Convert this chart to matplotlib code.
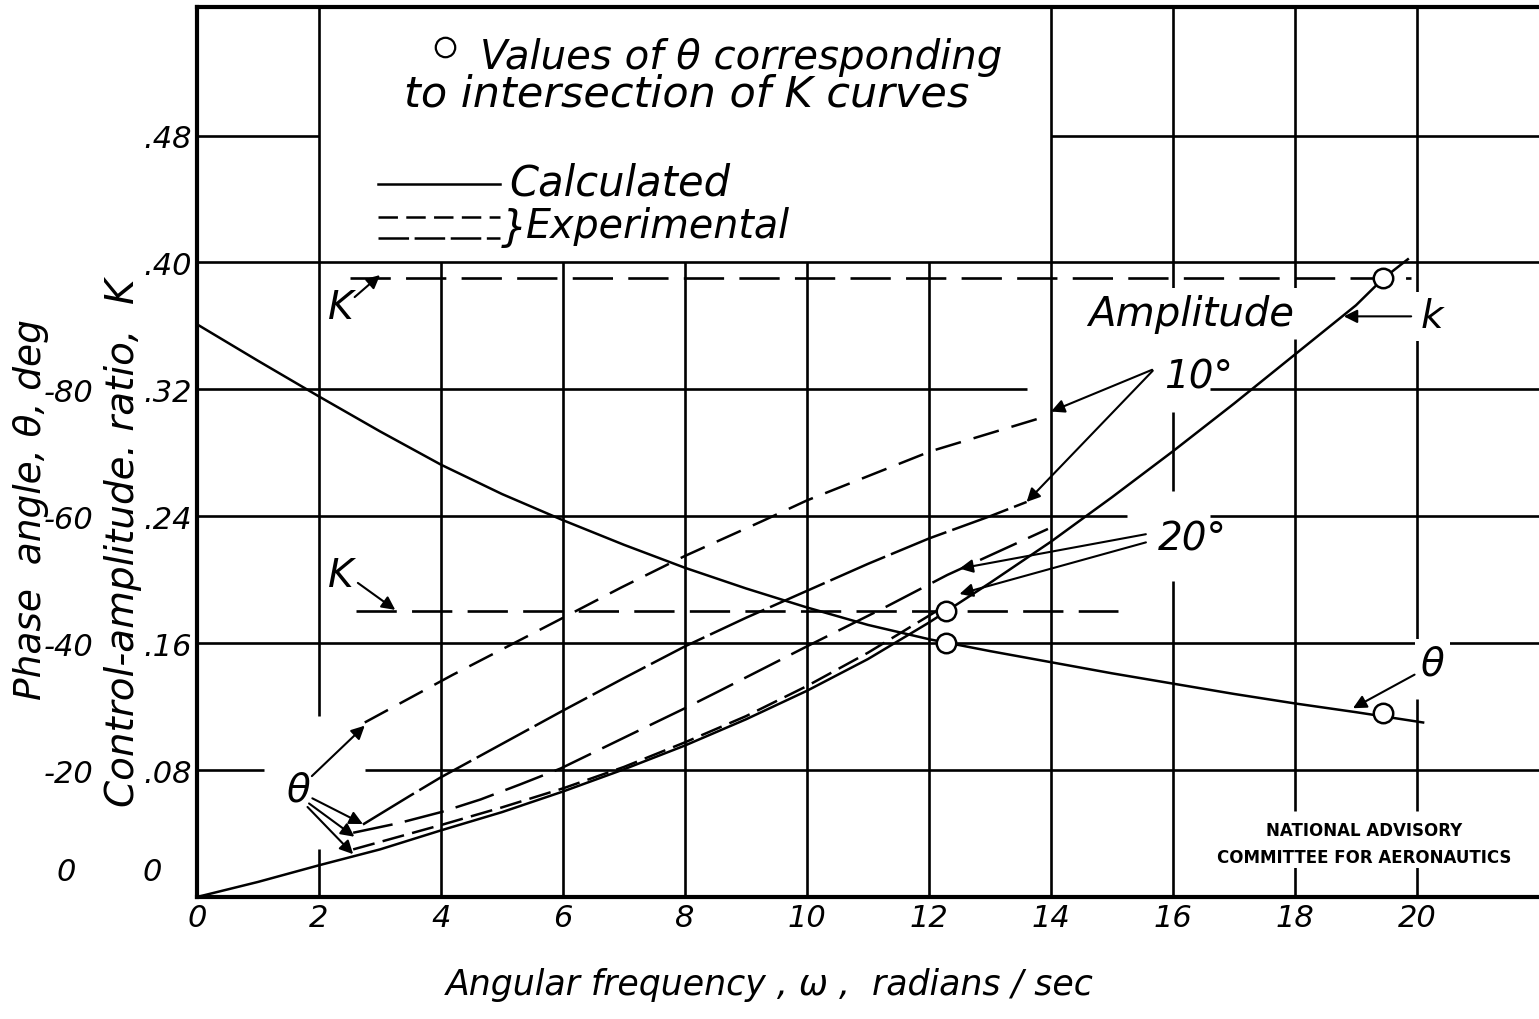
import matplotlib
matplotlib.use('Agg')
import matplotlib.pyplot as plt

plt.rcParams['font.family'] = ['DejaVu Sans']
plt.rcParams['font.style'] = 'italic'
plt.rcParams['lines.scale_dashes'] = False

# calculated phase-angle curve (plotted on the K scale, theta = -250 K)
w_theta_calc = [0, 1, 2, 3, 4, 5, 6, 7, 8, 9, 10, 11, 12, 13, 14, 15, 16, 17, 18, 19, 20.1]
k_theta_calc = [0.361, 0.338, 0.3155, 0.2935, 0.2725, 0.254, 0.2375, 0.222, 0.2075, 0.1945, 0.1825,
                0.1715, 0.1625, 0.155, 0.148, 0.141, 0.1345, 0.128, 0.122, 0.1165, 0.110]

# calculated control-amplitude ratio
w_k_calc = [0, 1, 2, 3, 4, 5, 6, 7, 8, 9, 10, 11, 12, 12.28, 13, 14, 15, 16, 17, 18, 19, 19.45, 19.85]
k_k_calc = [0, 0.0095, 0.020, 0.030, 0.042, 0.0535, 0.0665, 0.0805, 0.0955, 0.112, 0.130, 0.150,
            0.173, 0.180, 0.198, 0.224, 0.252, 0.281, 0.311, 0.342, 0.373, 0.390, 0.402]

# experimental K levels (horizontal dashed lines)
k_exp_level = [0.39, 0.18]
w_exp_start = [2.5, 2.6]
w_exp_end = [19.9, 15.1]

# experimental curves
w_a = [2.75, 4.19, 5.85, 6.95, 8.0, 9.27, 10.0, 12.03, 13.92]
k_a = [0.110, 0.140, 0.173, 0.195, 0.215, 0.237, 0.250, 0.281, 0.303]
w_b = [2.72, 3.5, 4.0, 5.0, 6.0, 7.0, 8.0, 9.0, 10.0, 11.0, 12.0, 13.0, 13.6]
k_b = [0.0457, 0.064, 0.0755, 0.0965, 0.1175, 0.138, 0.158, 0.176, 0.193, 0.210, 0.226, 0.240, 0.249]
w_c = [2.56, 3.3, 4.0, 4.65, 5.3, 5.96, 7.3, 8.0, 8.57, 10.0, 11.3, 12.3, 13.95]
k_c = [0.0405, 0.0465, 0.0535, 0.0615, 0.071, 0.081, 0.106, 0.119, 0.130, 0.158, 0.183, 0.203, 0.232]
w_d = [2.56, 4.03, 5.0, 6.01, 7.0, 8.0, 9.0, 10.0, 11.0, 11.6, 12.2]
k_d = [0.030, 0.0457, 0.0565, 0.0686, 0.082, 0.0975, 0.114, 0.133, 0.154, 0.168, 0.182]

# intersections
w_circ = [12.28, 12.28, 19.45, 19.45]
k_circ = [0.180, 0.160, 0.390, 0.116]

x_ticks = [0, 2, 4, 6, 8, 10, 12, 14, 16, 18, 20]
k_ticks = [0.08, 0.16, 0.24, 0.32, 0.40, 0.48]
k_ticklabels = ['.08', '.16', '.24', '.32', '.40', '.48']
theta_ticks = [-20, -40, -60, -80]
theta_ticklabels = ['-20', '-40', '-60', '-80']

fig = plt.figure(figsize=(15.39, 10.2), dpi=100)
ax = fig.add_axes([197 / 1539, 1 - 898 / 1020, 1 - 197 / 1539, 890 / 1020])
ax.set_xlim(0, 22)
ax.set_ylim(0, 0.561)

for s in ['left', 'bottom', 'top']:
    ax.spines[s].set_linewidth(3)
ax.spines['right'].set_visible(False)

# hand drawn grid with gaps
hgrid = {0.08: [(0, 1.1), (2.75, 22)], 0.16: [(0, 22)], 0.24: [(0, 15.25), (16.6, 22)],
         0.32: [(0, 13.6), (16.6, 22)], 0.40: [(0, 22)], 0.48: [(0, 2), (14, 22)]}
vgrid = {2: [(0, 0.030), (0.114, 0.561)], 4: [(0, 0.40)], 6: [(0, 0.40)], 8: [(0, 0.40)],
         10: [(0, 0.40)], 12: [(0, 0.40)], 14: [(0, 0.561)],
         16: [(0, 0.199), (0.256, 0.306), (0.381, 0.561)],
         18: [(0, 0.02), (0.054, 0.352), (0.381, 0.561)],
         20: [(0, 0.02), (0.054, 0.125), (0.161, 0.358), (0.378, 0.561)]}
for y, segs in hgrid.items():
    for a, b in segs:
        ax.hlines(y, a, b, color='black', lw=1.9, zorder=1)
for x, segs in vgrid.items():
    for a, b in segs:
        ax.vlines(x, a, b, color='black', lw=1.9, zorder=1)

# curves
ax.plot(w_theta_calc, k_theta_calc, color='black', lw=1.8, zorder=5)
ax.plot(w_k_calc, k_k_calc, color='black', lw=1.8, zorder=5)
for k, a, b in zip(k_exp_level, w_exp_start, w_exp_end):
    ax.plot([a, b], [k, k], color='black', lw=1.9, dashes=(29, 11), zorder=5)
ax.plot(w_a, k_a, color='black', lw=1.8, dashes=(19, 9.5), zorder=5)
ax.plot(w_b, k_b, color='black', lw=1.8, dashes=(43, 4.5), zorder=5)
ax.plot(w_c, k_c, color='black', lw=1.8, dashes=(29, 9), zorder=5)
ax.plot(w_d, k_d, color='black', lw=1.8, dashes=(16, 6), zorder=5)
ax.plot(w_circ, k_circ, 'o', ms=14, mfc='white', mec='black', mew=1.8, zorder=6)

# ticks
ax.set_xticks(x_ticks, labels=[str(v) for v in x_ticks])
ax.set_yticks(k_ticks, labels=k_ticklabels)
ax.tick_params(length=0, labelsize=22)
ax.tick_params(axis='x', pad=4)
ax.tick_params(axis='y', pad=4)
ax.text(-0.026, 0.016, '0', transform=ax.get_yaxis_transform(), ha='right', va='center', fontsize=22)
ax.text(-0.090, 0.016, '0', transform=ax.get_yaxis_transform(), ha='right', va='center', fontsize=22)

ax2 = ax.twinx()
ax2.set_ylim(0, -250 * 0.561)
ax2.yaxis.set_ticks_position('left')
ax2.spines['left'].set_position(('axes', -0.077))
for s in ax2.spines.values():
    s.set_visible(False)
ax2.set_yticks(theta_ticks, labels=theta_ticklabels)
ax2.tick_params(length=0, labelsize=22, pad=0)

# axis labels
ax.text(-0.124, 0.436, 'Phase  angle, θ, deg', transform=ax.transAxes, rotation=90,
        ha='center', va='center', fontsize=27)
ax.text(-0.055, 0.399, 'Control-amplitude. ratio,  K', transform=ax.transAxes, rotation=90,
        ha='center', va='center', fontsize=28)
ax.text(0.427, -0.098, 'Angular frequency , ω ,  radians / sec', transform=ax.transAxes,
        ha='center', va='center', fontsize=25)

# title note
ax.plot([0.185], [0.955], 'o', ms=14, mfc='white', mec='black', mew=1.6, transform=ax.transAxes)
ax.text(0.211, 0.944, 'Values of θ corresponding', transform=ax.transAxes,
        ha='left', va='center', fontsize=29)
ax.text(0.365, 0.903, 'to intersection of K curves', transform=ax.transAxes,
        ha='center', va='center', fontsize=31)

# legend
ax.plot([0.135, 0.226], [0.801, 0.801], color='black', lw=1.8, transform=ax.transAxes)
ax.plot([0.135, 0.226], [0.764, 0.764], color='black', lw=1.8, dashes=(14, 6), transform=ax.transAxes)
ax.plot([0.135, 0.226], [0.740, 0.740], color='black', lw=1.8, dashes=(22, 4), transform=ax.transAxes)
ax.text(0.233, 0.803, 'Calculated', transform=ax.transAxes, ha='left', va='center', fontsize=30)
ax.text(0.226, 0.752, '}', transform=ax.transAxes, ha='left', va='center', fontsize=30)
ax.text(0.245, 0.754, 'Experimental', transform=ax.transAxes, ha='left', va='center', fontsize=28.5)

white = dict(boxstyle='square,pad=0.15', fc='white', ec='none')
arrow = dict(arrowstyle='-|>', color='black', lw=1.5, mutation_scale=20, shrinkA=2, shrinkB=0)

ax.text(16.3, 0.368, 'Amplitude', ha='center', va='center', fontsize=29, bbox=white, zorder=3)
ax.text(15.85, 0.328, '10°', ha='left', va='center', fontsize=28, zorder=3)
ax.text(15.75, 0.226, '20°', ha='left', va='center', fontsize=28, zorder=3)
ax.annotate('', xy=(14.0, 0.306), xytext=(15.7, 0.333), arrowprops=arrow, zorder=4)
ax.annotate('', xy=(13.6, 0.249), xytext=(15.7, 0.333), arrowprops=arrow, zorder=4)
ax.annotate('', xy=(12.5, 0.207), xytext=(15.6, 0.229), arrowprops=arrow, zorder=4)
ax.annotate('', xy=(12.5, 0.191), xytext=(15.6, 0.224), arrowprops=arrow, zorder=4)

ax.text(2.35, 0.372, 'K', ha='center', va='center', fontsize=28, zorder=3)
ax.annotate('', xy=(3.0, 0.392), xytext=(2.55, 0.377), arrowprops=arrow, zorder=4)
ax.text(2.35, 0.203, 'K', ha='center', va='center', fontsize=28, zorder=3)
ax.annotate('', xy=(3.25, 0.181), xytext=(2.6, 0.199), arrowprops=arrow, zorder=4)

ax.text(20.25, 0.366, 'k', ha='center', va='center', fontsize=28, bbox=white, zorder=3)
ax.annotate('', xy=(18.8, 0.366), xytext=(19.95, 0.366), arrowprops=arrow, zorder=4)
ax.text(20.25, 0.147, 'θ', ha='center', va='center', fontsize=28, bbox=white, zorder=3)
ax.annotate('', xy=(18.95, 0.119), xytext=(20.0, 0.141), arrowprops=arrow, zorder=4)

ax.text(1.65, 0.068, 'θ', ha='center', va='center', fontsize=28, zorder=3)
ax.annotate('', xy=(2.75, 0.108), xytext=(1.85, 0.075), arrowprops=arrow, zorder=4)
ax.annotate('', xy=(2.72, 0.046), xytext=(1.85, 0.063), arrowprops=arrow, zorder=4)
ax.annotate('', xy=(2.58, 0.038), xytext=(1.8, 0.060), arrowprops=arrow, zorder=4)
ax.annotate('', xy=(2.56, 0.027), xytext=(1.78, 0.058), arrowprops=arrow, zorder=4)

ax.text(0.87, 0.075, 'NATIONAL ADVISORY', transform=ax.transAxes, ha='center', va='center',
        fontsize=12, fontweight='bold', style='normal', bbox=white)
ax.text(0.87, 0.045, 'COMMITTEE FOR AERONAUTICS', transform=ax.transAxes, ha='center', va='center',
        fontsize=12, fontweight='bold', style='normal', bbox=white)

fig.savefig('out.png', dpi=100)
